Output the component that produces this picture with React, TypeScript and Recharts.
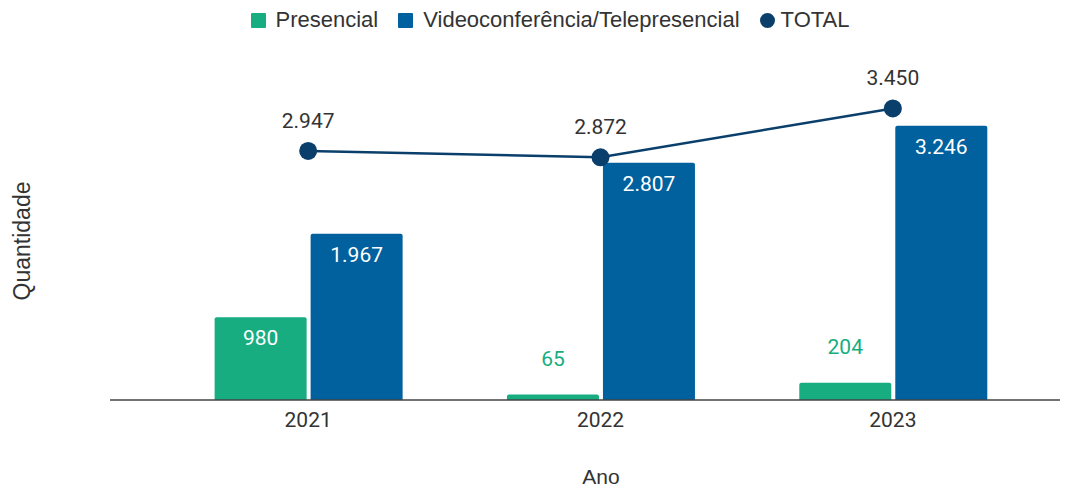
import {
  ComposedChart, Bar, Line, XAxis, YAxis, Legend, LabelList,
} from "recharts";

const YEARS = ["2021", "2022", "2023"];
const PRESENCIAL = [980, 65, 204];
const VIDEO = [1967, 2807, 3246];
const TOTAL = [2947, 2872, 3450];
const SERIES_ORDER = ["presencial", "video", "total"];

const GREEN = "#17ad80";
const BLUE = "#00619e";
const NAVY = "#0b3f6b";
const TEXT = "#333333";
const NUM_FONT = "Roboto, sans-serif";
const SANS = "'Liberation Sans', Arial, sans-serif";

const data = YEARS.map((year, i) => ({
  year,
  presencial: PRESENCIAL[i],
  video: VIDEO[i],
  total: TOTAL[i],
}));

const fmt = (v: number) => String(v).replace(/\B(?=(\d{3})+(?!\d))/g, ".");

function BarValue(props: any) {
  const { x, y, width, height, value, fill } = props;
  const cx = x + width / 2;
  const inside = height > 40;
  return (
    <text x={cx} y={inside ? y + 21 : y - 36} fill={inside ? "#ffffff" : fill}
      fontSize={21} fontFamily={NUM_FONT} textAnchor="middle" dominantBaseline="central">
      {fmt(value)}
    </text>
  );
}

function TotalValue(props: any) {
  const { x, y, value } = props;
  return (
    <text x={x} y={y - 30} fill={TEXT} fontSize={21} fontFamily={NUM_FONT}
      textAnchor="middle" dominantBaseline="central">
      {fmt(value)}
    </text>
  );
}

function LegendBox({ payload }: any) {
  const items = [...(payload || [])].sort(
    (a: any, b: any) => SERIES_ORDER.indexOf(a.dataKey) - SERIES_ORDER.indexOf(b.dataKey)
  );
  return (
    <div style={{ display: "flex", justifyContent: "center", gap: 20, fontFamily: SANS, fontSize: 22, color: TEXT }}>
      {items.map((it: any) => (
        <div key={it.dataKey} style={{ display: "flex", alignItems: "center", gap: it.type === "circle" ? 6 : 10 }}>
          <span style={{
            display: "inline-block", width: 15, height: 15, background: it.color,
            borderRadius: it.type === "circle" ? "50%" : 1,
          }} />
          <span>{it.value}</span>
        </div>
      ))}
    </div>
  );
}

export default function App() {
  return (
    <div style={{ position: "absolute", left: 0, top: 0, background: "#fff" }}>
      <ComposedChart
        width={1080}
        height={486}
        data={data}
        margin={{ top: 34, right: 20, left: 110, bottom: 60 }}
        barCategoryGap="18%"
        barGap={4}
      >
        <XAxis
          dataKey="year"
          padding={{ left: 52, right: 21 }}
          axisLine={{ stroke: "#444", strokeWidth: 1.5 }}
          tickLine={false}
          tick={{ fill: TEXT, fontSize: 21, fontFamily: NUM_FONT }}
          tickMargin={6}
          height={26}
        />
        <YAxis hide domain={[0, 4000]} />
        <Legend
          verticalAlign="top"
          content={<LegendBox />}
          wrapperStyle={{ position: "absolute", top: 7, left: 10, width: 1080, height: 28 }}
        />
        <Bar dataKey="presencial" name="Presencial" fill={GREEN} legendType="square"
          radius={[2, 2, 0, 0]} isAnimationActive={false}>
          <LabelList dataKey="presencial" content={(p: any) => <BarValue {...p} fill={GREEN} />} />
        </Bar>
        <Bar dataKey="video" name="Videoconferência/Telepresencial" fill={BLUE} legendType="square"
          radius={[2, 2, 0, 0]} isAnimationActive={false}>
          <LabelList dataKey="video" content={(p: any) => <BarValue {...p} fill={BLUE} />} />
        </Bar>
        <Line dataKey="total" name="TOTAL" stroke={NAVY} strokeWidth={2.5} legendType="circle"
          dot={{ r: 9, fill: NAVY, stroke: NAVY, strokeWidth: 0 }} activeDot={false}
          isAnimationActive={false}>
          <LabelList dataKey="total" content={(p: any) => <TotalValue {...p} />} />
        </Line>
        <text x={22} y={241} transform="rotate(-90 22 241)" textAnchor="middle"
          dominantBaseline="central" fill={TEXT} fontSize={23} fontFamily={SANS}>
          Quantidade
        </text>
        <text x={601} y={476} textAnchor="middle" dominantBaseline="central"
          fill={TEXT} fontSize={21} fontFamily={SANS}>
          Ano
        </text>
      </ComposedChart>
    </div>
  );
}
